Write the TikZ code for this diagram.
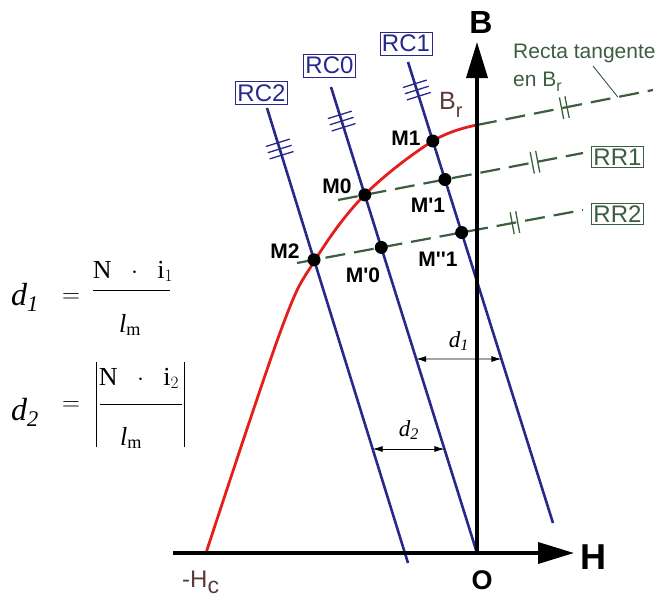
\documentclass[tikz,border=0pt]{standalone}
\usepackage{fontspec}
\setmainfont{Liberation Serif}
\newfontfamily\arial{Liberation Sans}
\usetikzlibrary{arrows.meta,calc}
\definecolor{cblue}{RGB}{40,40,140}
\definecolor{cred}{RGB}{228,30,30}
\definecolor{cgreen}{RGB}{58,94,62}
\definecolor{cbrown}{RGB}{90,58,58}
\newcommand{\fs}[1]{\fontsize{#1}{#1}\selectfont}
\begin{document}
\begin{tikzpicture}[x=1pt,y=-1pt,
  bluel/.style={cblue, line width=2.6pt},
  hashl/.style={cblue, line width=1.3pt},
  greenl/.style={cgreen, line width=2.2pt, dash pattern=on 20pt off 9pt},
  tickl/.style={cgreen, line width=1.3pt},
  axis/.style={line width=3.6pt, -{Triangle[length=36pt,width=21pt]}},
  dot/.style={circle, fill=black, inner sep=0pt, minimum size=13pt},
  mlab/.style={font=\arial\bfseries\fs{21}, inner sep=0pt},
  rcbox/.style={draw=cblue, line width=0.8pt, text=cblue, font=\arial\fs{24}, inner xsep=2pt, inner ysep=3pt},
  rrbox/.style={draw=cgreen, line width=0.8pt, text=cgreen, font=\arial\fs{24}, inner xsep=2pt, inner ysep=2pt},
  dim/.style={line width=0.8pt, {Latex[length=10pt,width=6pt]}-{Latex[length=10pt,width=6pt]}},
  eqd/.style={font=\fs{32}, inner sep=0pt, anchor=base west},
  eqs/.style={font=\fs{28}, inner sep=0pt},
  eqf/.style={font=\fs{26}, inner sep=0pt, anchor=base},
  rule/.style={line width=0.9pt}
]
\useasboundingbox (0,0) rectangle (670,598);

% key coordinates
\coordinate (O) at (477,553);
\coordinate (Hs) at (173,553);
\coordinate (He) at (574,553);
\coordinate (Be) at (477,42);
\coordinate (Br) at (477,125);
\coordinate (Hc) at (206,553);

\coordinate (rc1t) at (408,62);  \coordinate (rc1b) at (553,523);
\coordinate (rc0t) at (331,87);  \coordinate (rc0b) at (477,553);
\coordinate (rc2t) at (267,108); \coordinate (rc2b) at (408,563);

\coordinate (tgE) at (653,90);
\coordinate (rr1a) at (338,200); \coordinate (rr1b) at (583,153);
\coordinate (rr2a) at (297,263); \coordinate (rr2b) at (583,210);

% blue lines
\draw[bluel] (rc1t) -- (rc1b);
\draw[bluel] (rc0t) -- (rc0b);
\draw[bluel] (rc2t) -- (rc2b);

% hash marks
\foreach \a/\b/\p in {rc1t/rc1b/0.0607, rc0t/rc0b/0.0731, rc2t/rc2b/0.0901}{
  \coordinate (hc) at ($(\a)!\p!(\b)$);
  \foreach \s in {-6.5,0,6.5}{
    \coordinate (hs) at ($(hc)!\s pt!(\b)$);
    \draw[hashl] ($(hs)!12.5pt!90:(\b)$) -- ($(hs)!12.5pt!-90:(\b)$);
  }
}

% green dashed lines
\draw[greenl] (Br) -- (tgE);
\draw[greenl] (rr1a) -- (rr1b);
\draw[greenl] (rr2a) -- (rr2b);

% double ticks on green lines
\foreach \a/\b/\p in {Br/tgE/0.496, rr1a/rr1b/0.804, rr2a/rr2b/0.762}{
  \coordinate (tc) at ($(\a)!\p!(\b)$);
  \foreach \s in {-2.8,2.8}{
    \coordinate (ts) at ($(tc)!\s pt!(\b)$);
    \draw[tickl] ($(ts)!11pt!90:(\b)$) -- ($(ts)!11pt!-90:(\b)$);
  }
}

% leader from the label to the tangent line
\coordinate (ld) at ($(Br)!0.8!(tgE)$);
\draw[cgreen, line width=0.9pt] (593,66) -- (ld);

% red curve
\draw[cred, line width=2.8pt, line join=round]
  plot[smooth, tension=0.6] coordinates {(206,553) (281,330) (314.5,261) (364.6,194.9) (432.8,141) (477,125)};

% axes
\draw[axis] (Hs) -- (He);
\draw[axis] (O) -- (Be);

% intersection points
\coordinate (M1) at (432.8,141);
\coordinate (Mp1) at (intersection of rc1t--rc1b and rr1a--rr1b);
\coordinate (Mpp1) at (intersection of rc1t--rc1b and rr2a--rr2b);
\coordinate (M0) at (intersection of rc0t--rc0b and rr1a--rr1b);
\coordinate (Mp0) at (intersection of rc0t--rc0b and rr2a--rr2b);
\coordinate (M2) at (intersection of rc2t--rc2b and rr2a--rr2b);
\foreach \m in {M1,Mp1,Mpp1,M0,Mp0,M2} \node[dot] (d\m) at (\m) {};

\node[mlab] (lM1) at (406,138) {M1};
\node[mlab] (lM0) at (337,186) {M0};
\node[mlab] (lMp1) at (428,205) {M'1};
\node[mlab] (lMpp1) at (438,259) {M''1};
\node[mlab] (lM2) at (285,251) {M2};
\node[mlab] (lMp0) at (363,275) {M'0};

% boxes
\node[rcbox] (RC1) at (406,43.5) {RC1};
\node[rcbox] (RC0) at (329.5,65.5) {RC0};
\node[rcbox] (RC2) at (261.5,93) {RC2};
\node[rrbox] (RR1) at (617.5,157) {RR1};
\node[rrbox] (RR2) at (617.5,214) {RR2};

% axis labels
\node[font=\arial\bfseries\fs{32}, inner sep=0pt] (lB) at (481,22) {B};
\node[font=\arial\bfseries\fs{36}, inner sep=0pt] (lH) at (593,557) {H};
\node[font=\arial\bfseries\fs{27}, inner sep=0pt] (lO) at (482,580) {O};
\node[font=\arial\fs{24}, text=cbrown, inner sep=0pt, anchor=base west] (lHc) at (182,587) {-H\raisebox{-6pt}{\fs{23}c}};
\node[font=\arial\fs{25}, text=cbrown, inner sep=0pt, anchor=base west] (lBr) at (439,109) {B\raisebox{-8pt}{\fs{20}r}};

% tangent label
\node[font=\arial\fs{21}, text=cgreen, inner sep=0pt, anchor=base west] (lt1) at (513,58) {Recta tangente};
\node[font=\arial\fs{21}, text=cgreen, inner sep=0pt, anchor=base west] (lt2) at (513,86) {en B\raisebox{-5pt}{\fs{16}r}};

% dimension arrows
\coordinate (h1a) at (0,359); \coordinate (h1b) at (670,359);
\coordinate (h2a) at (0,449); \coordinate (h2b) at (670,449);
\draw[dim] (intersection of rc0t--rc0b and h1a--h1b) -- (intersection of rc1t--rc1b and h1a--h1b);
\draw[dim] (intersection of rc2t--rc2b and h2a--h2b) -- (intersection of rc0t--rc0b and h2a--h2b);
\node[font=\fs{23}, inner sep=0pt] (ld1) at (459,341) {$\mathit{d}_{\mathit{1}}$};
\node[font=\fs{23}, inner sep=0pt] (ld2) at (409,430) {$\mathit{d}_{\mathit{2}}$};

% formula 1
\node[eqd] (f1d) at (11,305) {$\mathit{d}_{\mathit{1}}$};
\node[eqs] (f1e) at (71,298) {$=$};
\node[eqf] (f1n) at (133,278) {$\mathrm{N}\;\;\cdot\;\;\mathrm{i}_1$};
\node[eqf] (f1m) at (130,332) {$\mathit{l}_\mathrm{m}$};
\draw[rule] (93,290) -- (170,290);

% formula 2
\node[eqd] (f2d) at (11,420) {$\mathit{d}_{\mathit{2}}$};
\node[eqs] (f2e) at (71,406) {$=$};
\node[eqf] (f2n) at (139,385) {$\mathrm{N}\;\;\cdot\;\;\mathrm{i}_2$};
\node[eqf] (f2m) at (131,445) {$\mathit{l}_\mathrm{m}$};
\draw[rule] (100,404) -- (182,404);
\draw[rule] (96,362) -- (96,447);
\draw[rule] (184,362) -- (184,447);
\end{tikzpicture}
\end{document}
